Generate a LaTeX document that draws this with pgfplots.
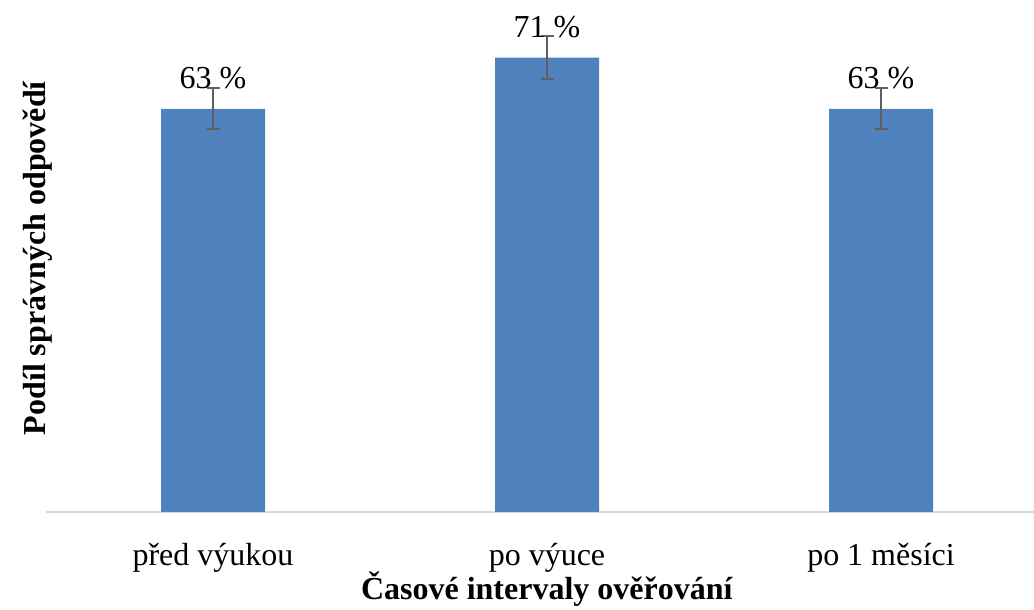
\documentclass[border=0pt]{standalone}
\usepackage{fontspec}
\setmainfont{Liberation Serif}
\usepackage{pgfplots}
\pgfplotsset{compat=1.18}

\definecolor{barblue}{HTML}{4F81BD}
\definecolor{errgray}{HTML}{5F5F5F}
\definecolor{axgray}{HTML}{D9D9D9}

\begin{document}
\begin{tikzpicture}
\begin{axis}[
    at={(0,0)}, anchor=south west,
    scale only axis,
    width=494pt, height=256pt,
    xmin=-0.5, xmax=2.458,
    ymin=0, ymax=80,
    axis x line=bottom,
    axis y line=left,
    x axis line style={draw=axgray, line width=1pt, -},
    y axis line style={draw=none},
    /pgf/number format/assume math mode=true,
    xtick=data,
    xticklabels={před výukou, po výuce, po 1 měsíci},
    xtick style={draw=none},
    xticklabel style={anchor=base, yshift=-24.5pt, font=\fontsize{16}{19}\selectfont},
    ytick=\empty,
    xlabel={\textbf{Časové intervaly ověřování}},
    xlabel style={at={(axis cs:1,0)}, anchor=base, yshift=-44pt, font=\fontsize{16}{19}\selectfont},
    ylabel={\textbf{Podíl správných odpovědí}},
    ylabel style={at={(axis description cs:0,0.5)}, anchor=base, xshift=-1pt, font=\fontsize{16}{19}\selectfont},
    clip=false,
]
\addplot[
    ybar, bar width=52pt,
    fill=barblue, draw=none,
    nodes near coords={\pgfmathprintnumber{\pgfplotspointmeta} \%},
    nodes near coords style={anchor=base, yshift=10pt, text=black, font=\fontsize{16}{19}\selectfont},
    error bars/.cd, y dir=both, y explicit,
    error mark=|,
    error bar style={draw=errgray, line width=1pt},
    error mark options={draw=errgray, line width=1pt, mark size=3.25pt},
] coordinates {
    (0,63) +- (0,3.2)
    (1,71) +- (0,3.4)
    (2,63) +- (0,3.2)
};
\end{axis}
\pgfresetboundingbox
\useasboundingbox (-23pt,-49pt) rectangle (494pt,256pt);
\end{tikzpicture}
\end{document}
